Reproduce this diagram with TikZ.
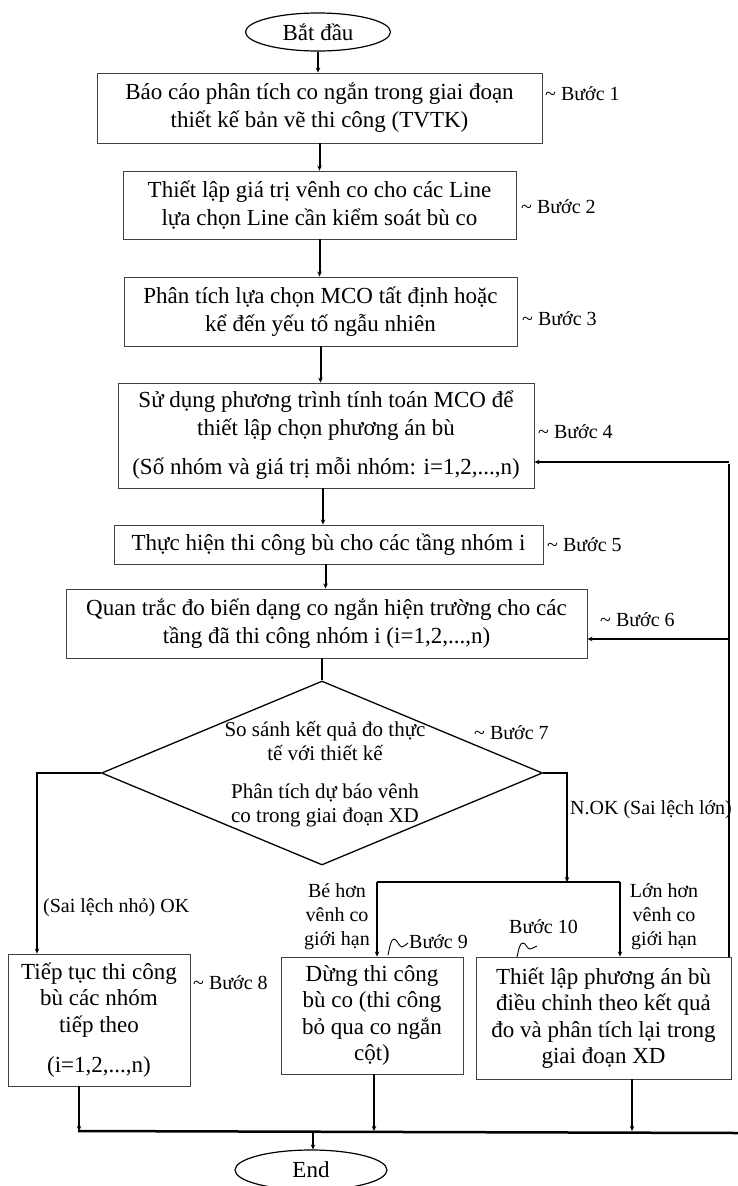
\documentclass[tikz,border=0pt]{standalone}
\usepackage{fontspec}
\setmainfont{Liberation Serif}
\usetikzlibrary{shapes.geometric,arrows.meta}
\tikzset{
  box/.style={draw=black!75, line width=0.9pt, inner sep=0pt, align=center, font=\fontsize{23}{28}\selectfont},
  smallbox/.style={box, font=\fontsize{23}{26.5}\selectfont},
  oval/.style={ellipse, draw, line width=1.2pt, inner sep=0pt, font=\fontsize{23}{28}\selectfont},
  conn/.style={line width=2pt, -{Stealth[length=5pt,width=4.5pt]}},
  wire/.style={line width=2pt},
  lbl/.style={font=\fontsize{20}{24}\selectfont, inner sep=0pt},
  squig/.style={line width=0.9pt},
}
\begin{document}
\begin{tikzpicture}[x=1pt,y=-1pt]
\useasboundingbox (0,0) rectangle (738,1186);

% nodes
\node[oval, minimum width=145pt, minimum height=38pt] (st) at (318,32) {Bắt đầu};
\node[box, minimum width=445pt, minimum height=70pt] (b1) at (319.5,108)
  {Báo cáo phân tích co ngắn trong giai đoạn\\thiết kế bản vẽ thi công (TVTK)};
\node[box, minimum width=393pt, minimum height=68pt] (b2) at (319.5,205)
  {Thiết lập giá trị vênh co cho các Line\\lựa chọn Line cần kiểm soát bù co};
\node[box, minimum width=393pt, minimum height=69pt] (b3) at (320.5,311.5)
  {Phân tích lựa chọn MCO tất định hoặc\\kể đến yếu tố ngẫu nhiên};
\node[box, minimum width=416pt, minimum height=105pt] (b4) at (326,435.5)
  {Sử dụng phương trình tính toán MCO để\\thiết lập chọn phương án bù\\[11pt](Số nhóm và giá trị mỗi nhóm: i=1,2,...,n)};
\node[box, minimum width=429pt, minimum height=39pt] (b5) at (328.5,544.5)
  {Thực hiện thi công bù cho các tầng nhóm i};
\node[box, minimum width=521pt, minimum height=69pt] (b6) at (326.5,623.5)
  {Quan trắc đo biến dạng co ngắn hiện trường cho các\\tầng đã thi công nhóm i (i=1,2,...,n)};
\node[diamond, draw, line width=1.3pt, inner sep=0pt, minimum width=441pt, minimum height=184pt] (dia) at (322,773) {};
\node[align=center, inner sep=0pt, font=\fontsize{21}{24}\selectfont] (dtx) at (325,774)
  {So sánh kết quả đo thực\\tế với thiết kế\\[14pt]Phân tích dự báo vênh\\co trong giai đoạn XD};
\node[smallbox, minimum width=182pt, minimum height=132pt] (b8) at (99,1020)
  {Tiếp tục thi công\\bù các nhóm\\tiếp theo\\[14pt](i=1,2,...,n)};
\node[smallbox, minimum width=182pt, minimum height=117pt] (b9) at (372,1015.5)
  {Dừng thi công\\bù co (thi công\\bỏ qua co ngắn\\cột)};
\node[smallbox, minimum width=255pt, minimum height=122pt] (b10) at (603.5,1018)
  {Thiết lập phương án bù\\điều chỉnh theo kết quả\\đo và phân tích lại trong\\giai đoạn XD};
\node[oval, minimum width=152pt, minimum height=40pt] (en) at (311,1170) {End};

% step labels
\node[lbl, anchor=west] (s1) at (545,94) {\textasciitilde{} Bước 1};
\node[lbl, anchor=west] (s2) at (521,207) {\textasciitilde{} Bước 2};
\node[lbl, anchor=west] (s3) at (522,319) {\textasciitilde{} Bước 3};
\node[lbl, anchor=west] (s4) at (538,432) {\textasciitilde{} Bước 4};
\node[lbl, anchor=west] (s5) at (547,545) {\textasciitilde{} Bước 5};
\node[lbl, anchor=west] (s6) at (600,620) {\textasciitilde{} Bước 6};
\node[lbl, anchor=west] (s7) at (474,733) {\textasciitilde{} Bước 7};
\node[lbl, anchor=west] (s8) at (193,983) {\textasciitilde{} Bước 8};
\node[lbl, anchor=west] (s9) at (409,942) {Bước 9};
\node[lbl, anchor=west] (s10) at (509,927) {Bước 10};

% branch labels
\node[lbl, anchor=west] (ok) at (43,908) {(Sai lệch nhỏ) OK};
\node[lbl, anchor=west] (nok) at (570,810) {N.OK (Sai lệch lớn)};
\node[lbl, align=center] (be) at (337,917) {Bé hơn\\vênh co\\giới hạn};
\node[lbl, align=center] (lo) at (664,917) {Lớn hơn\\vênh co\\giới hạn};

% squiggles
\draw[squig] (388,955) .. controls (390,946) and (391,939) .. (394,939)
  .. controls (397,939) and (399,947) .. (402,947)
  .. controls (404,947) and (406,944) .. (408,943);
\draw[squig] (517,957) .. controls (519,948) and (520,943) .. (523,943)
  .. controls (526,943) and (527,949) .. (530,949)
  .. controls (532,949) and (534,947) .. (537,946);

% coordinates
\coordinate (L) at (37,773);
\coordinate (R) at (567,773);
\coordinate (J) at (567,882);
\coordinate (J9) at (377,882);
\coordinate (J10) at (620,882);
\coordinate (rt) at (729,957);
\coordinate (c4) at (729,462);
\coordinate (c6) at (729,639);
\coordinate (busL) at (78,1131);
\coordinate (busR) at (738,1133);
\coordinate (x8) at (79,0);
\coordinate (x9) at (374,0);
\coordinate (x10) at (632,0);
\coordinate (xe) at (313,1132);

% main chain
\draw[conn] (st.south) -- (st.south |- b1.north);
\draw[conn] (b1.south) -- (b1.south |- b2.north);
\draw[conn] (b2.south) -- (b2.south |- b3.north);
\draw[conn] (b3.south) -- (b3.south |- b4.north);
\draw[conn] ([xshift=-3pt]b4.south) -- ([xshift=-3pt]b4.south |- b5.north);
\draw[conn] ([xshift=-3pt]b5.south) -- ([xshift=-3pt]b5.south |- b6.north);
\draw[wire] (dia.north |- b6.south) -- (dia.north);

% decision branches
\draw[conn] (dia.west) -- (L) -- (L |- b8.north);
\draw[conn] (dia.east) -- (R) -- (J);
\draw[wire] (J9) -- (J10);
\draw[conn] (J9) -- (J9 |- b9.north);
\draw[conn] (J10) -- (J10 |- b10.north);

% feedback
\draw[wire] (rt) -- ([yshift=-2pt]c4);
\draw[conn] (c4) -- (c4 -| b4.east);
\draw[conn] (c6) -- (c6 -| b6.east);

% bottom bus
\draw[line width=2.5pt] (busL) -- (busR);
\draw[conn] (x8 |- b8.south) -- (x8 |- busL);
\draw[conn] (x9 |- b9.south) -- (x9 |- busL);
\draw[conn] (x10 |- b10.south) -- (x10 |- busL);
\draw[conn] (xe) -- (xe |- en.north);
\end{tikzpicture}
\end{document}
